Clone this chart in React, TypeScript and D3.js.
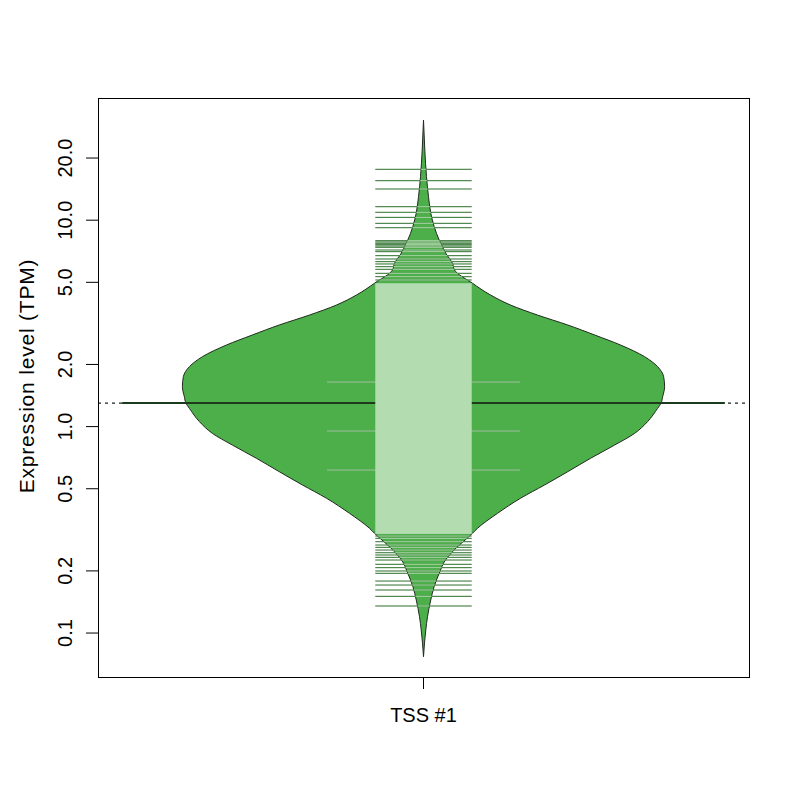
import React from "react";
import * as d3 from "d3";

// ---- data ----
const categories = ["TSS #1"];
const yTickValues = [0.1, 0.2, 0.5, 1, 2, 5, 10, 20];
const yTickLabels = ["0.1", "0.2", "0.5", "1.0", "2.0", "5.0", "10.0", "20.0"];

// bean outline: expression value and relative density width (1 = widest)
const beanValues = [
  30.56, 21.88, 16.24, 12.99, 10.8, 9.3, 8.015, 6.91, 6.18, 5.735, 4.946, 4.34,
  3.88, 3.47, 3.107, 2.778, 2.485, 2.181, 1.951, 1.745, 1.561, 1.396, 1.297,
  1.226, 1.056, 0.928, 0.8144, 0.7023, 0.6046, 0.5214, 0.4494, 0.3802, 0.3216,
  0.3041, 0.2477, 0.2258, 0.1947, 0.1677, 0.1445, 0.12, 0.1034, 0.0894, 0.0768,
];
const beanDensity = [
  0, 0.0054, 0.0124, 0.0207, 0.0303, 0.0444, 0.0651, 0.0925, 0.1203, 0.1286,
  0.2033, 0.278, 0.361, 0.473, 0.598, 0.71, 0.817, 0.917, 0.971, 0.996, 1.0,
  0.992, 0.985, 0.971, 0.929, 0.876, 0.793, 0.693, 0.598, 0.502, 0.402, 0.307,
  0.224, 0.203, 0.12, 0.091, 0.065, 0.044, 0.03, 0.0166, 0.0095, 0.0041, 0,
];

// individual bean lines (values) and how many observations share each value
const beanlineValues = [
  17.64, 15.53, 14.16, 11.62, 10.92, 10.32, 9.656, 9.194, 7.954, 7.841, 7.727,
  7.608, 7.498, 7.39, 7.171, 7.037, 6.73, 6.486, 6.294, 6.135, 5.953, 5.781,
  5.529, 5.324, 5.131, 1.644, 0.952, 0.616, 0.2951, 0.2876, 0.2769, 0.2669,
  0.2601, 0.2524, 0.2449, 0.2388, 0.2327, 0.2258, 0.2153, 0.2073, 0.1998,
  0.1947, 0.1786, 0.1708, 0.1616, 0.1506, 0.1352,
];
const beanlineCounts = [
  1, 1, 1, 1, 1, 1, 1, 1, 1, 1, 1, 1, 1, 1, 1, 1, 1, 1, 1, 1, 1, 1, 1, 1, 1, 2,
  2, 2, 1, 1, 1, 1, 1, 1, 1, 1, 1, 1, 1, 1, 1, 1, 1, 1, 1, 1, 1,
];
// range where bean lines are so dense they merge into a solid band
const denseCore = [0.302, 4.95];
const beanAverage = 1.3;
const overallAverage = 1.3;

// ---- styling ----
const W = 800;
const H = 800;
const left = 98, right = 749, top = 98, bottom = 677;
const beanFill = "#4DAF4A";
const innerLine = "#B3DDB0";
const outerLine = "#2b6e2b";
const avgLine = "#1c3a1c";
const font = "'Liberation Sans', Arial, Helvetica, sans-serif";

export default function App() {
  const x = d3.scaleLinear().domain([0.46, 1.54]).range([left, right]);
  const y = d3.scaleLog().domain([0.06124, 39.07]).range([bottom, top]);
  const center = 1;
  const maxHalf = 0.4;
  const lineHalf = 0.08;

  const profile = beanValues.map((v, i) => ({ v, d: beanDensity[i] }));
  const area = d3
    .area<{ v: number; d: number }>()
    .y((p) => y(p.v))
    .x0((p) => x(center - maxHalf * p.d))
    .x1((p) => x(center + maxHalf * p.d))
    .curve(d3.curveMonotoneY);
  const beanPath = area(profile) || "";

  const lines = beanlineValues.map((v, i) => ({ v, n: beanlineCounts[i] }));

  return (
    <svg
      width={W}
      height={H}
      style={{ position: "absolute", left: 0, top: 0, background: "#fff" }}
      fontFamily={font}
    >
      <defs>
        <clipPath id="beanClip">
          <path d={beanPath} />
        </clipPath>
      </defs>
      <rect x={0} y={0} width={W} height={H} fill="#fff" />

      {/* overall average (dotted) */}
      <line
        x1={left}
        x2={right}
        y1={y(overallAverage)}
        y2={y(overallAverage)}
        stroke="#222"
        strokeWidth={1.2}
        strokeDasharray="3 4"
      />

      {/* bean */}
      <path d={beanPath} fill={beanFill} stroke="#1e2a1e" strokeWidth={1} />

      {/* bean average */}
      <line
        x1={x(center - 0.5)}
        x2={x(center + 0.5)}
        y1={y(beanAverage)}
        y2={y(beanAverage)}
        stroke={avgLine}
        strokeWidth={2}
      />

      {/* bean lines outside bean */}
      <g stroke={outerLine} strokeWidth={1}>
        {lines.map((l, i) => (
          <line
            key={i}
            x1={x(center - lineHalf * l.n)}
            x2={x(center + lineHalf * l.n)}
            y1={y(l.v)}
            y2={y(l.v)}
          />
        ))}
      </g>
      {/* bean lines inside bean */}
      <g clipPath="url(#beanClip)">
        <rect
          x={x(center - lineHalf)}
          width={x(center + lineHalf) - x(center - lineHalf)}
          y={y(denseCore[1])}
          height={y(denseCore[0]) - y(denseCore[1])}
          fill={innerLine}
        />
        <g stroke={innerLine} strokeWidth={1}>
          {lines.map((l, i) => (
            <line
              key={i}
              x1={x(center - lineHalf * l.n)}
              x2={x(center + lineHalf * l.n)}
              y1={y(l.v)}
              y2={y(l.v)}
            />
          ))}
        </g>
      </g>

      {/* box */}
      <rect
        x={left + 0.5}
        y={top + 0.5}
        width={right - left}
        height={bottom - top}
        fill="none"
        stroke="#000"
        strokeWidth={1}
      />

      {/* y axis */}
      <g stroke="#000" strokeWidth={1}>
        {yTickValues.map((t, i) => (
          <line key={i} x1={left - 12} x2={left} y1={y(t)} y2={y(t)} />
        ))}
      </g>
      {yTickValues.map((t, i) => (
        <text
          key={i}
          transform={`translate(72,${y(t)}) rotate(-90)`}
          textAnchor="middle"
          fontSize={20}
          fill="#000"
        >
          {yTickLabels[i]}
        </text>
      ))}
      <text
        transform={`translate(34,376) rotate(-90)`}
        textAnchor="middle"
        fontSize={21}
        letterSpacing={0.8}
        fill="#000"
      >
        Expression level (TPM)
      </text>

      {/* x axis */}
      {categories.map((c, i) => (
        <g key={c}>
          <line
            x1={x(i + 1)}
            x2={x(i + 1)}
            y1={bottom}
            y2={bottom + 12}
            stroke="#000"
            strokeWidth={1}
          />
          <text
            x={x(i + 1)}
            y={722}
            textAnchor="middle"
            fontSize={20}
            fill="#000"
          >
            {c}
          </text>
        </g>
      ))}
    </svg>
  );
}
